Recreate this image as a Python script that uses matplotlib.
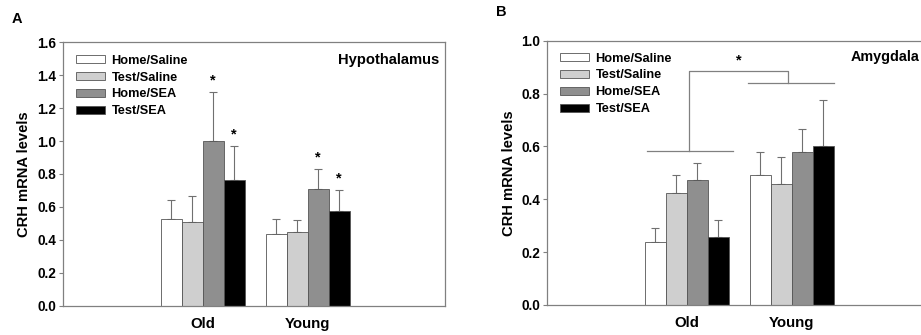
import matplotlib.pyplot as plt
import numpy as np

groups = ['Old', 'Young']
labels = ['Home/Saline', 'Test/Saline', 'Home/SEA', 'Test/SEA']
colors = ['white', '#cfcfcf', '#8f8f8f', 'black']

# Hypothalamus (panel A)
hyp_mean = [[0.527, 0.438], [0.51, 0.45], [0.997, 0.708], [0.765, 0.577]]
hyp_err = [[0.113, 0.089], [0.158, 0.073], [0.30, 0.123], [0.202, 0.125]]
hyp_star = [[False, False], [False, False], [True, True], [True, True]]

# Amygdala (panel B)
amy_mean = [[0.238, 0.492], [0.422, 0.458], [0.472, 0.577], [0.259, 0.60]]
amy_err = [[0.055, 0.086], [0.07, 0.102], [0.066, 0.087], [0.062, 0.176]]

plt.rcParams['font.family'] = ['Liberation Sans', 'DejaVu Sans']
plt.rcParams['font.weight'] = 'bold'

fig = plt.figure(figsize=(9.21, 3.35), dpi=100)
axA = fig.add_axes([0.0684, 0.0866, 0.4148, 0.788])
axB = fig.add_axes([0.594, 0.0896, 0.4148, 0.789])

x = np.arange(1, len(groups) + 1)
w = 0.2
offs = [-0.3, -0.1, 0.1, 0.3]
spine_c = '#808080'


def draw(ax, means, errs, ymax, ylegend):
    handles = []
    for i in range(4):
        b = ax.bar(x + offs[i], means[i], w, color=colors[i], edgecolor='#555555',
                   linewidth=0.6, label=labels[i], zorder=2)
        ax.errorbar(x + offs[i], means[i], yerr=[np.zeros(2), errs[i]], fmt='none',
                    ecolor='#707070', elinewidth=0.8, capsize=3, capthick=0.8, zorder=1)
        handles.append(b)
    ax.set_xlim(-0.33, 3.31)
    ax.set_ylim(0, ymax)
    ax.set_xticks(x)
    ax.set_xticklabels(groups, fontsize=10.8, fontweight='bold')
    ax.tick_params(axis='x', length=0, pad=8)
    ax.tick_params(axis='y', labelsize=9.8, length=3, width=0.8, color=spine_c, pad=2)
    for s in ax.spines.values():
        s.set_color(spine_c)
        s.set_linewidth(0.9)
    ax.set_ylabel('CRH mRNA levels', fontsize=10.6, fontweight='bold', labelpad=4)
    ax.legend(handles=handles, loc='upper left', bbox_to_anchor=(0.033, ylegend),
              frameon=False, fontsize=9.2, handlelength=2.3, handleheight=0.6,
              handletextpad=0.5, labelspacing=0.38, borderpad=0, borderaxespad=0)


draw(axA, hyp_mean, hyp_err, 1.6, 0.952)
axA.set_yticks(np.arange(0, 1.61, 0.2))
axA.set_yticklabels(['%.1f' % v for v in np.arange(0, 1.61, 0.2)])
axA.text(0.985, 0.93, 'Hypothalamus', transform=axA.transAxes, ha='right', va='center',
         fontsize=10.6, fontweight='bold')
for i in range(4):
    for j in range(2):
        if hyp_star[i][j]:
            axA.text(x[j] + offs[i], hyp_mean[i][j] + hyp_err[i][j] + 0.07, '*',
                     ha='center', va='center', fontsize=10.5, fontweight='bold')

draw(axB, amy_mean, amy_err, 1.0, 0.955)
axB.set_yticks(np.arange(0, 1.01, 0.2))
axB.set_yticklabels(['%.1f' % v for v in np.arange(0, 1.01, 0.2)])
fig.text(851 / 921, 1 - 57 / 335, 'Amygdala', ha='left', va='center',
         fontsize=10.4, fontweight='bold')

# significance bracket Old vs Young
bc = '#808080'
axB.plot([0.62, 1.44], [0.583, 0.583], color=bc, lw=0.9)
axB.plot([1.02, 1.02, 1.97, 1.97], [0.583, 0.884, 0.884, 0.84], color=bc, lw=0.9)
axB.plot([1.587, 2.40], [0.84, 0.84], color=bc, lw=0.9)
axB.text(1.5, 0.925, '*', ha='center', va='center', fontsize=10.5, fontweight='bold')

fig.text(17 / 921, 1 - 19 / 335, 'A', fontsize=10.5, fontweight='bold', ha='center', va='center')
fig.text(501 / 921, 1 - 12 / 335, 'B', fontsize=10.5, fontweight='bold', ha='center', va='center')

fig.savefig('out.png', dpi=100)
